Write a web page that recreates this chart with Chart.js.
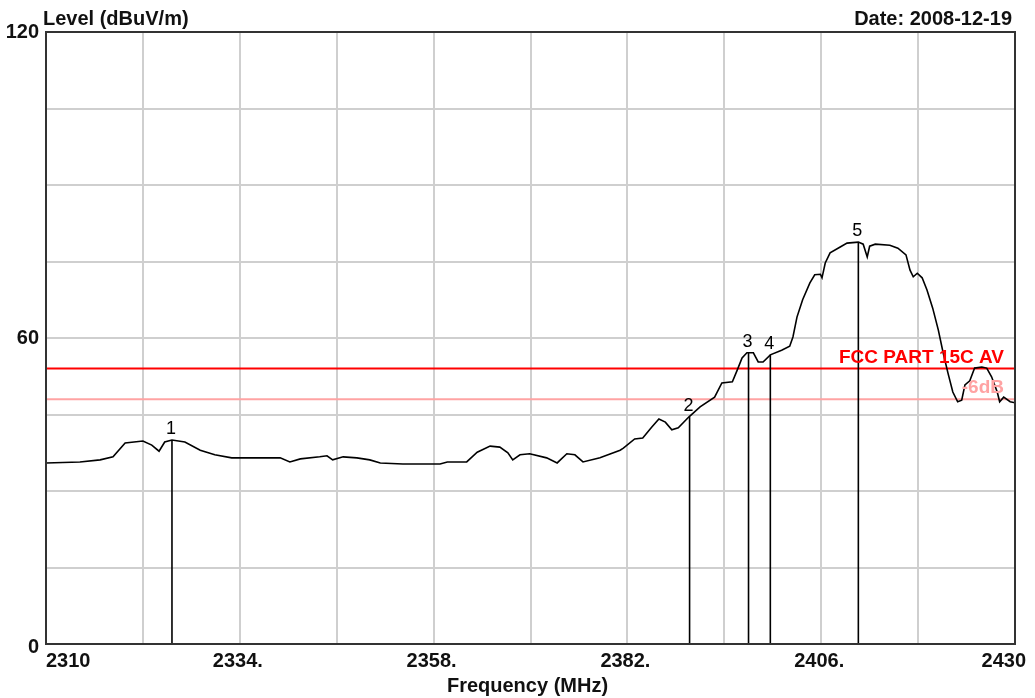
<!DOCTYPE html>
<html>
<head>
<meta charset="utf-8">
<title>Level vs Frequency</title>
<script src="https://cdn.jsdelivr.net/npm/chart.js@4.4.1/dist/chart.umd.min.js"></script>
<style>
  html, body { margin: 0; padding: 0; background: #fff; }
  #wrap { width: 1035px; height: 698px; }
</style>
</head>
<body>
<div id="wrap"><canvas id="levelChart" width="1035" height="698"></canvas></div>
<script>
// trace
const freqs = [
  2310.0, 2314.2, 2316.7, 2318.3, 2319.8, 2322.0, 2323.1, 2324.0, 2324.7, 2325.6,
  2327.2, 2329.1, 2330.9, 2333.0, 2339.0, 2340.2, 2341.5, 2343.9, 2344.8, 2345.5,
  2346.8, 2348.5, 2350.1, 2351.4, 2354.2, 2358.8, 2359.7, 2362.1, 2363.4, 2365.0,
  2366.2, 2367.2, 2367.8, 2368.7, 2369.9, 2372.0, 2373.3, 2374.5, 2375.5, 2376.5,
  2378.6, 2381.1, 2381.5, 2382.9, 2383.9, 2385.0, 2385.9, 2386.7, 2387.5, 2388.3,
  2389.6, 2391.0, 2392.8, 2393.7, 2395.0, 2395.6, 2396.2, 2396.8, 2397.6, 2398.2,
  2398.8, 2399.7, 2401.1, 2402.1, 2402.5, 2403.0, 2403.7, 2404.6, 2405.2, 2405.9,
  2406.1, 2406.5, 2407.1, 2408.3, 2409.2, 2410.6, 2411.2, 2411.7, 2412.0, 2412.7,
  2414.5, 2415.5, 2416.5, 2417.0, 2417.4, 2417.9, 2418.5, 2419.1, 2419.8, 2420.5,
  2421.1, 2421.7, 2422.3, 2422.9, 2423.4, 2423.8, 2424.4, 2425.0, 2425.9, 2426.5,
  2427.1, 2427.8, 2428.1, 2428.6, 2429.4, 2430.0
];
const levels = [
  35.5, 35.7, 36.1, 36.7, 39.4, 39.8, 39.0, 37.8, 39.6, 40.0,
  39.6, 38.0, 37.1, 36.5, 36.5, 35.7, 36.3, 36.7, 36.9, 36.1,
  36.7, 36.5, 36.1, 35.5, 35.3, 35.3, 35.7, 35.7, 37.6, 38.8,
  38.6, 37.5, 36.1, 37.1, 37.3, 36.5, 35.5, 37.3, 37.1, 35.7,
  36.5, 38.0, 38.4, 40.2, 40.4, 42.5, 44.1, 43.5, 42.0, 42.4,
  44.5, 46.5, 48.4, 51.2, 51.4, 53.7, 56.1, 57.1, 57.1, 55.3,
  55.3, 56.7, 57.6, 58.4, 60.2, 64.1, 67.5, 70.8, 72.4, 72.5,
  71.8, 74.7, 76.7, 77.8, 78.6, 78.8, 78.4, 75.9, 78.0, 78.4,
  78.2, 77.6, 76.3, 73.3, 72.0, 72.7, 71.8, 69.4, 65.9, 61.6,
  57.1, 53.1, 49.4, 47.5, 47.8, 50.8, 51.6, 54.1, 54.3, 54.1,
  52.4, 49.4, 47.5, 48.4, 47.5, 47.3
];

// numbered markers
const markerNames = ['1', '2', '3', '4', '5'];
const markerFreqs = [2325.6, 2389.7, 2397.0, 2399.7, 2410.6];
const markerLevels = [40.0, 44.5, 57.1, 56.7, 78.8];

// limit lines
const limitNames = ['FCC PART 15C AV', '-6dB'];
const limitLevels = [54, 48];
const limitColors = ['#ff0000', '#ffa3a3'];

// axes
const freqMin = 2310, freqMax = 2430, freqStep = 12;
const freqLabels = [2310, 2334, 2358, 2382, 2406, 2430];
const levelMin = 0, levelMax = 120, levelStep = 15;
const levelLabels = [0, 60, 120];

const FONT = '"Liberation Sans", Arial, sans-serif';

const datasets = [{
    data: freqs.map((f, i) => ({ x: f, y: levels[i] })),
    borderColor: '#000',
    borderWidth: 1.6,
    pointRadius: 0,
    tension: 0
}];

markerFreqs.forEach((f, i) => {
    datasets.push({
        data: [{ x: f, y: levelMin }, { x: f, y: markerLevels[i] }],
        borderColor: '#000',
        borderWidth: 1.6,
        pointRadius: 0
    });
});

limitLevels.forEach((v, i) => {
    datasets.push({
        data: [{ x: freqMin, y: v }, { x: freqMax, y: v }],
        borderColor: limitColors[i],
        borderWidth: 2,
        pointRadius: 0
    });
});

// frame, axis text, marker numbers, limit names
const decorPlugin = {
    id: 'decor',
    afterDraw(chart) {
        const ctx = chart.ctx;
        const a = chart.chartArea;
        const xs = chart.scales.x, ys = chart.scales.y;
        ctx.save();

        ctx.strokeStyle = '#333';
        ctx.lineWidth = 2;
        ctx.strokeRect(a.left, a.top, a.right - a.left, a.bottom - a.top);

        ctx.fillStyle = '#111';
        ctx.font = 'bold 20px ' + FONT;
        ctx.textBaseline = 'alphabetic';
        ctx.textAlign = 'left';
        ctx.fillText('Level (dBuV/m)', 43, 25);
        ctx.textAlign = 'right';
        ctx.fillText('Date: 2008-12-19', 1012, 25);

        ctx.textBaseline = 'middle';
        levelLabels.forEach(v => {
            ctx.fillText(String(v), 39, ys.getPixelForValue(v) + (v === levelMin ? 3 : 0));
        });

        ctx.textBaseline = 'alphabetic';
        freqLabels.forEach((v, i) => {
            const px = xs.getPixelForValue(v);
            if (i === 0) {
                ctx.textAlign = 'left';
                ctx.fillText(String(v), px, 667);
            } else if (i === freqLabels.length - 1) {
                ctx.textAlign = 'right';
                ctx.fillText(String(v), px + 11, 667);
            } else {
                ctx.textAlign = 'center';
                ctx.fillText(v + '.', px - 2, 667);
            }
        });
        ctx.textAlign = 'center';
        ctx.fillText('Frequency (MHz)', (a.left + a.right) / 2 - 3, 692);

        ctx.font = '18px ' + FONT;
        ctx.fillStyle = '#000';
        ctx.textBaseline = 'alphabetic';
        markerFreqs.forEach((f, i) => {
            ctx.fillText(markerNames[i], xs.getPixelForValue(f) - 1, ys.getPixelForValue(markerLevels[i]) - 6);
        });

        ctx.font = 'bold 19px ' + FONT;
        ctx.textAlign = 'right';
        limitLevels.forEach((v, i) => {
            ctx.fillStyle = limitColors[i];
            ctx.fillText(limitNames[i], a.right - 11, ys.getPixelForValue(v) - 6);
        });

        ctx.restore();
    }
};

new Chart(document.getElementById('levelChart').getContext('2d'), {
    type: 'line',
    data: { datasets: datasets },
    options: {
        responsive: false,
        animation: false,
        layout: { padding: { left: 46, top: 32, right: 20, bottom: 54 } },
        plugins: { legend: { display: false }, tooltip: { enabled: false } },
        scales: {
            x: {
                type: 'linear',
                min: freqMin,
                max: freqMax,
                ticks: { stepSize: freqStep, display: false },
                grid: { color: '#cfcfcf', lineWidth: 2, drawTicks: false },
                border: { display: false }
            },
            y: {
                type: 'linear',
                min: levelMin,
                max: levelMax,
                ticks: { stepSize: levelStep, display: false },
                grid: { color: '#cfcfcf', lineWidth: 2, drawTicks: false },
                border: { display: false }
            }
        }
    },
    plugins: [decorPlugin]
});
</script>
</body>
</html>
